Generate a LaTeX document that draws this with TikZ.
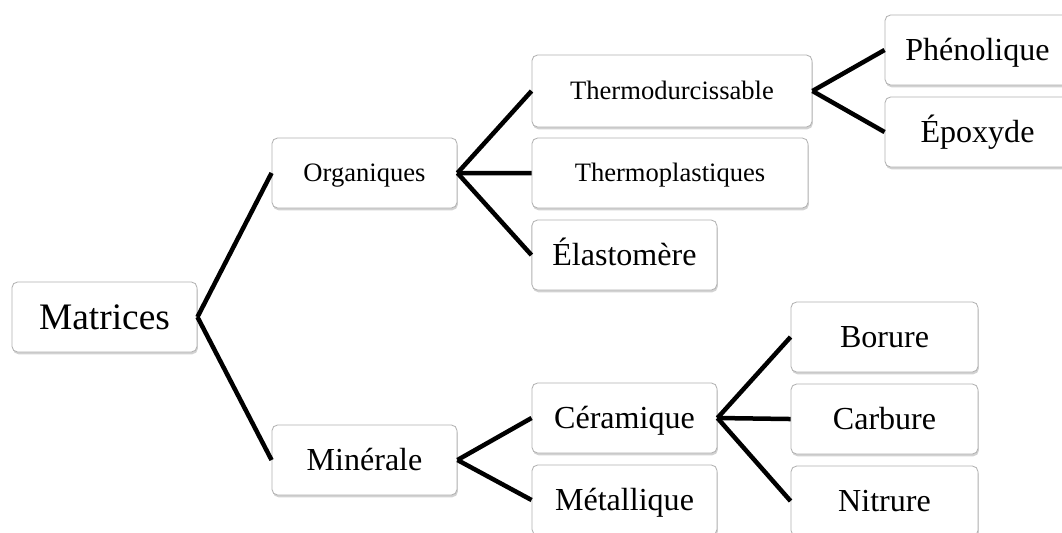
\documentclass[tikz,border=0pt]{standalone}
\usepackage{fontspec}
\setmainfont{Liberation Serif}
\usetikzlibrary{positioning,shadows}

\begin{document}
\begin{tikzpicture}[x=0.025cm, y=-0.025cm, node distance=2.05cm,
    box/.style={draw=gray!60, line width=0.6pt, rounded corners=4pt, fill=white,
      minimum width=4.625cm, minimum height=1.75cm, inner sep=2pt, text depth=0pt,
      drop shadow={shadow xshift=0.6pt, shadow yshift=-1.6pt, opacity=0.35}},
    big/.style={font=\fontsize{26.6}{30}\selectfont, text height=17.6pt},
    mid/.style={font=\fontsize{22.8}{26}\selectfont, text height=15.1pt},
    small/.style={font=\fontsize{18.9}{22}\selectfont, text height=12.5pt},
    branch/.style={line width=3.2pt}]
    \useasboundingbox (0,0) rectangle (1062,532);
    \clip (0,0) rectangle (1062,532);
    \fill[white] (0,0) rectangle (1062,532);
    % root and first level
    \node[box,big] (mat) at (104.5,317) {Matrices};
    \node[box,small] (org) at (364.5,173) {Organiques};
    \node[box,mid] (mine) at (364.5,460) {Minérale};
    % organic matrices
    \node[box,small,minimum width=7cm,minimum height=1.8cm] (thd) at (672,91) {Thermodurcissable};
    \node[box,small,minimum width=6.9cm,below of=thd,xshift=-0.05cm] (thp) {Thermoplastiques};
    \node[box,mid,below of=thp,xshift=-1.14cm] (ela) {Élastomère};
    \node[box,mid] (phe) at (977.5,50) {Phénolique};
    \node[box,mid,below of=phe] (epo) {Époxyde};
    % mineral matrices
    \node[box,mid] (cer) at (624.5,418) {Céramique};
    \node[box,mid,below of=cer] (met) {Métallique};
    \node[box,mid,minimum width=4.675cm] (bor) at (884.5,337) {Borure};
    \node[box,mid,minimum width=4.675cm,below of=bor] (car) {Carbure};
    \node[box,mid,minimum width=4.675cm,below of=car] (nit) {Nitrure};
    \draw[branch] (mat.east) -- (org.west);
    \draw[branch] (mat.east) -- (mine.west);
    \draw[branch] (org.east) -- (thd.west);
    \draw[branch] (org.east) -- (thp.west);
    \draw[branch] (org.east) -- (ela.west);
    \draw[branch] (thd.east) -- (phe.west);
    \draw[branch] (thd.east) -- (epo.west);
    \draw[branch] (mine.east) -- (cer.west);
    \draw[branch] (mine.east) -- (met.west);
    \draw[branch] (cer.east) -- (bor.west);
    \draw[branch] (cer.east) -- (car.west);
    \draw[branch] (cer.east) -- (nit.west);
\end{tikzpicture}
\end{document}
